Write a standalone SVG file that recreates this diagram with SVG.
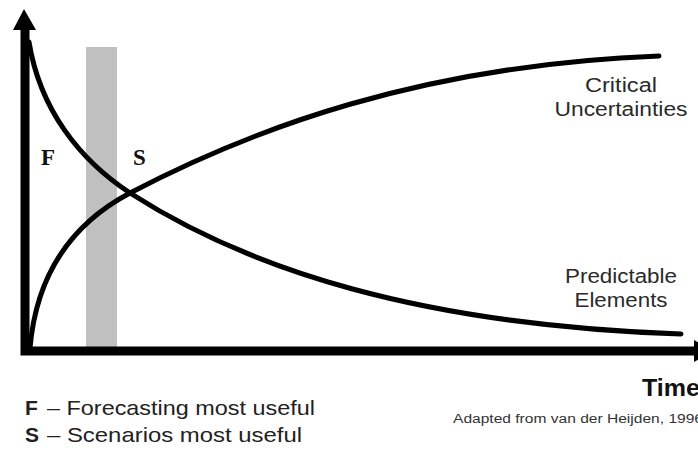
<svg xmlns="http://www.w3.org/2000/svg" width="698" height="450" viewBox="0 0 698 450">
<style>
.ax{stroke:#000;stroke-width:9;fill:none}
.cv{stroke:#000;stroke-width:5;fill:none;stroke-linecap:round}
.lbl{font-family:"Liberation Sans",Arial,sans-serif;font-size:20px;fill:#2a2a2a}
.ser{font-family:"Liberation Serif","Times New Roman",serif;font-weight:bold;font-size:23px;fill:#111}
.leg{font-family:"Liberation Sans",Arial,sans-serif;font-size:21px;fill:#222}
</style>
<rect id="band" x="86" y="47" width="31" height="300" fill="#c0c0c0"/>
<g id="axes">
<path class="ax" d="M25,28 V351 H696"/>
<polygon points="24,9 13,30 36,30" fill="#000"/>
<polygon points="694,340 694,362 714,351" fill="#000"/>
</g>
<g id="connectors">
<path id="predictable" class="cv" d="M29,42 C40,110 80,160 130,193 C250,270 420,325 681,334"/>
<path id="critical" class="cv" d="M30,348 C35,290 60,230 130,193 C250,130 420,65 659,56"/>
</g>
<g id="labelF"><text class="ser" x="41" y="165">F</text></g>
<g id="labelS"><text class="ser" x="133" y="165">S</text></g>
<g id="critical-label">
<text class="lbl" x="621" y="92" text-anchor="middle" textLength="72" lengthAdjust="spacingAndGlyphs">Critical</text>
<text class="lbl" x="621" y="116" text-anchor="middle" textLength="133" lengthAdjust="spacingAndGlyphs">Uncertainties</text>
</g>
<g id="predictable-label">
<text class="lbl" x="621" y="283" text-anchor="middle" textLength="112" lengthAdjust="spacingAndGlyphs">Predictable</text>
<text class="lbl" x="621" y="307" text-anchor="middle" textLength="93" lengthAdjust="spacingAndGlyphs">Elements</text>
</g>
<g id="time-label"><text x="642" y="396" font-family="Liberation Sans,Arial,sans-serif" font-weight="bold" font-size="24" fill="#111" textLength="58" lengthAdjust="spacingAndGlyphs">Time</text></g>
<g id="legend">
<text class="leg" x="25" y="415" font-weight="bold">F</text>
<text class="leg" x="47" y="415" textLength="268" lengthAdjust="spacingAndGlyphs">– Forecasting most useful</text>
<text class="leg" x="25" y="442" font-weight="bold">S</text>
<text class="leg" x="47" y="442" textLength="255" lengthAdjust="spacingAndGlyphs">– Scenarios most useful</text>
</g>
<g id="source"><text x="453" y="423" font-family="Liberation Sans,Arial,sans-serif" font-size="12" fill="#333" textLength="250" lengthAdjust="spacingAndGlyphs">Adapted from van der Heijden, 1996</text></g>
</svg>
